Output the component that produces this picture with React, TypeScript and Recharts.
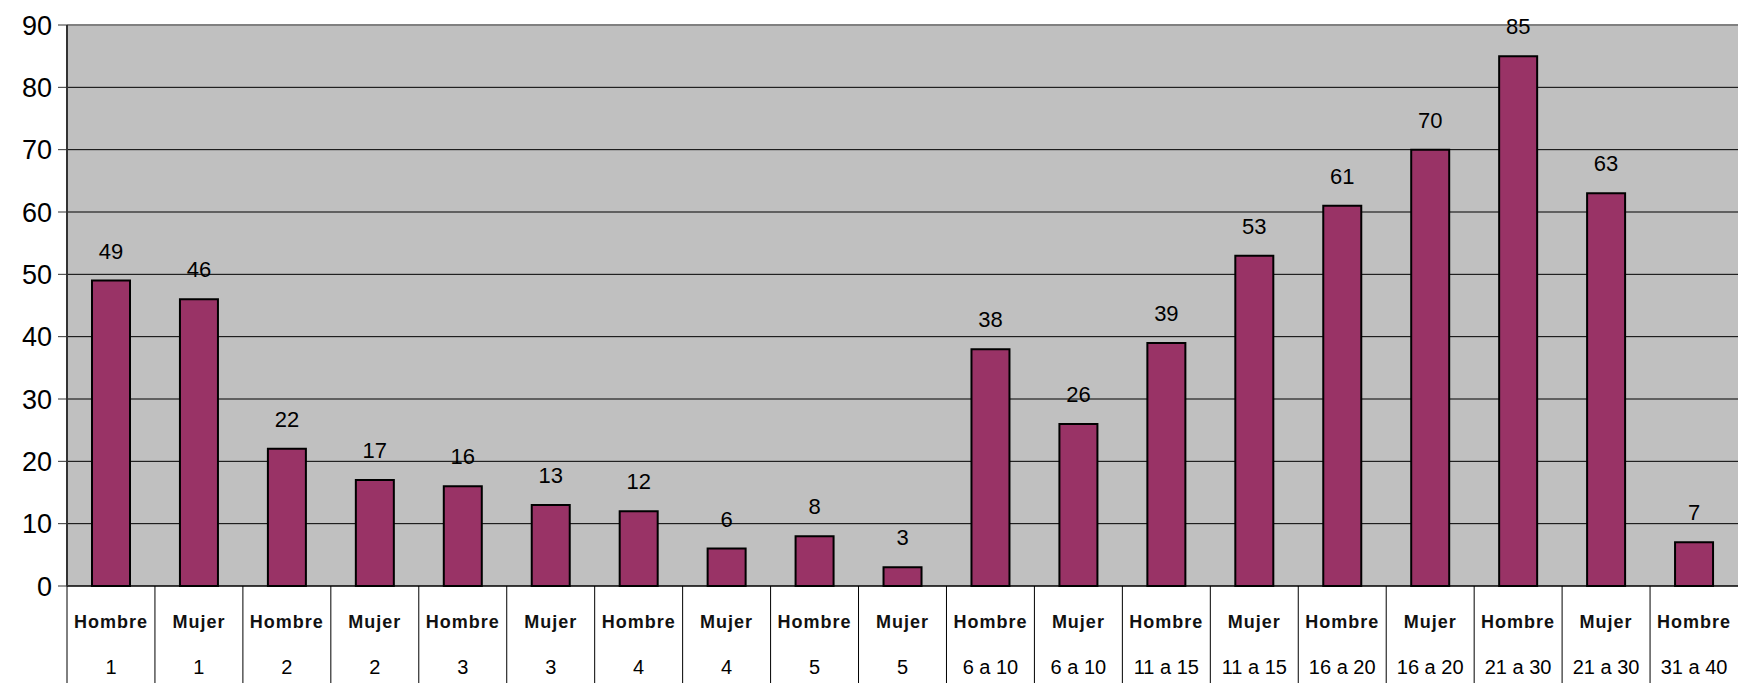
import { BarChart, Bar, XAxis, YAxis, CartesianGrid, LabelList, ReferenceLine } from "recharts";

const sexos = ["Hombre", "Mujer", "Hombre", "Mujer", "Hombre", "Mujer", "Hombre", "Mujer", "Hombre", "Mujer",
  "Hombre", "Mujer", "Hombre", "Mujer", "Hombre", "Mujer", "Hombre", "Mujer", "Hombre"];
const rangos = ["1", "1", "2", "2", "3", "3", "4", "4", "5", "5",
  "6 a 10", "6 a 10", "11 a 15", "11 a 15", "16 a 20", "16 a 20", "21 a 30", "21 a 30", "31 a 40"];
const valores = [49, 46, 22, 17, 16, 13, 12, 6, 8, 3, 38, 26, 39, 53, 61, 70, 85, 63, 7];
const yTicks = [0, 10, 20, 30, 40, 50, 60, 70, 80, 90];

const data = valores.map((v, i) => ({ key: `c${i}`, sexo: sexos[i], rango: rangos[i], valor: v }));

const W = 1739;
const H = 683;
const BAND = (W - 67 - 1) / valores.length;

function CategoryTick(props: any) {
  const { x, y, index } = props;
  const d = data[index];
  const left = x - BAND / 2;
  return (
    <g>
      <line x1={left} y1={y} x2={left} y2={H} stroke="#000" strokeWidth={1} />
      <text x={x} y={y + 42} textAnchor="middle" fontSize={18} fontWeight="bold" letterSpacing={1}
        fontFamily="Liberation Sans, Arial, sans-serif" fill="#111">{d.sexo}</text>
      <text x={x} y={y + 88} textAnchor="middle" fontSize={20}
        fontFamily="Liberation Sans, Arial, sans-serif" fill="#000">{d.rango}</text>
    </g>
  );
}

export default function App() {
  return (
    <div style={{ position: "absolute", left: 0, top: 0, background: "#fff" }}>
      <BarChart width={W} height={H} data={data} margin={{ top: 25, right: 1, left: 0, bottom: 0 }} barSize={38}>
        <CartesianGrid horizontal vertical={false} stroke="#000" strokeWidth={1} fill="#C0C0C0" />
        <XAxis dataKey="key" interval={0} height={97} tickLine={false} tickSize={0} tickMargin={0}
          axisLine={{ stroke: "#000" }} tick={<CategoryTick />} />
        <YAxis domain={[0, 90]} ticks={yTicks} width={67} tickSize={9} tickMargin={6}
          axisLine={{ stroke: "#333", strokeWidth: 2 }} tickLine={{ stroke: "#333" }}
          tick={{ fontSize: 27, fill: "#000", fontFamily: "Liberation Sans, Arial, sans-serif" }} />
        <ReferenceLine y={90} stroke="#808080" strokeWidth={2} />
        <Bar dataKey="valor" fill="#993366" stroke="#000" strokeWidth={2} isAnimationActive={false}>
          <LabelList dataKey="valor" position="top" offset={22} fontSize={22} fill="#000"
            fontFamily="Liberation Sans, Arial, sans-serif" />
        </Bar>
      </BarChart>
    </div>
  );
}
